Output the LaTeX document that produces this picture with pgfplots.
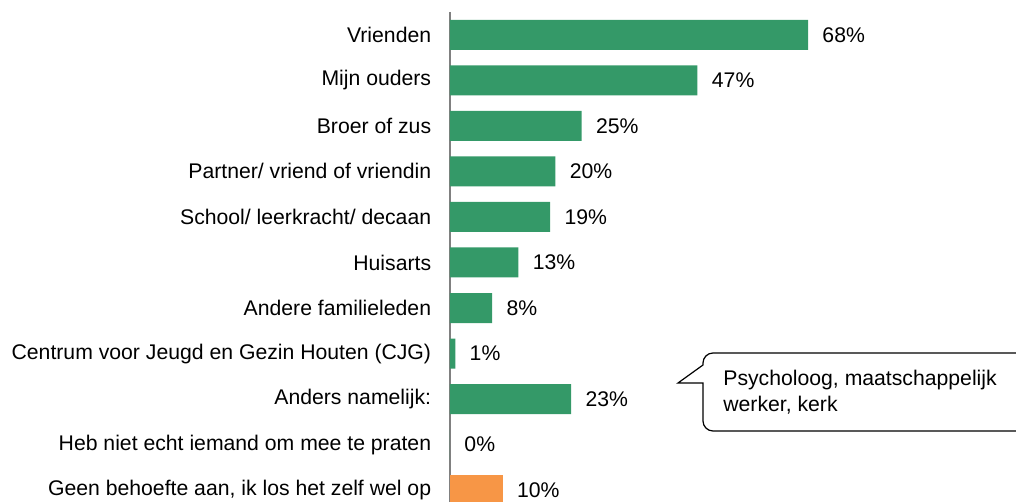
\documentclass[border=0pt]{standalone}
\usepackage{pgfplots}
\pgfplotsset{compat=1.18}
\usepackage{fontspec}
\setmainfont{Liberation Sans}
\definecolor{barGreen}{RGB}{52,153,104}
\definecolor{barOrange}{RGB}{247,150,70}
\newcommand{\lbl}{\fontsize{10.6}{13}\selectfont}
\begin{document}
\lbl
\begin{tikzpicture}
% picture frame: 1px = 0.5pt, origin at the foot of the axis line
\useasboundingbox (-225pt,0pt) rectangle (283pt,251pt);
\begin{axis}[
  at={(0pt,0pt)}, anchor=south west,
  scale only axis, width=283pt, height=245pt,
  xbar, bar width=15pt,
  xmin=0, xmax=107.5,
  ymin=-0.5, ymax=10.26, y dir=reverse,
  enlargelimits=false,
  axis x line=none,
  axis y line*=left,
  y axis line style={gray, -, line width=0.8pt},
  ytick={0,...,10},
  major tick length=0pt,
  yticklabels={Vrienden, Mijn ouders, Broer of zus, Partner/ vriend of vriendin,
    School/ leerkracht/ decaan, Huisarts, Andere familieleden,
    Centrum voor Jeugd en Gezin Houten (CJG), Anders namelijk:,
    Heb niet echt iemand om mee te praten, {Geen behoefte aan, ik los het zelf wel op}},
  yticklabel style={font=\lbl, xshift=-5.7pt},
  /pgf/number format/assume math mode=true,
  nodes near coords={\pgfmathprintnumber{\pgfplotspointmeta}\%},
  every node near coord/.append style={font=\lbl, anchor=west, xshift=3.5pt, text=black},
  clip=false,
]
\addplot[fill=barGreen, draw=none, bar shift=0pt] coordinates {
(68,0) (47,1) (25,2) (20,3) (19,4) (13,5) (8,6) (1,7) (23,8) (0,9)
};
\addplot[fill=barOrange, draw=none, bar shift=0pt] coordinates {
(10,10)
};
\end{axis}
% callout
\draw[line width=0.6pt]
  (126.5pt,68.5pt) [rounded corners=5pt] -- (126.5pt,74.5pt) -- (300pt,74.5pt) -- (300pt,35.5pt)
  -- (126.5pt,35.5pt) [sharp corners] -- (126.5pt,59.5pt) -- (114pt,59.5pt) -- cycle;
\node[anchor=west, align=left, inner sep=0pt, font=\lbl]
  at (136.5pt,55pt) {Psycholoog, maatschappelijk\\werker, kerk};
\end{tikzpicture}
\end{document}
